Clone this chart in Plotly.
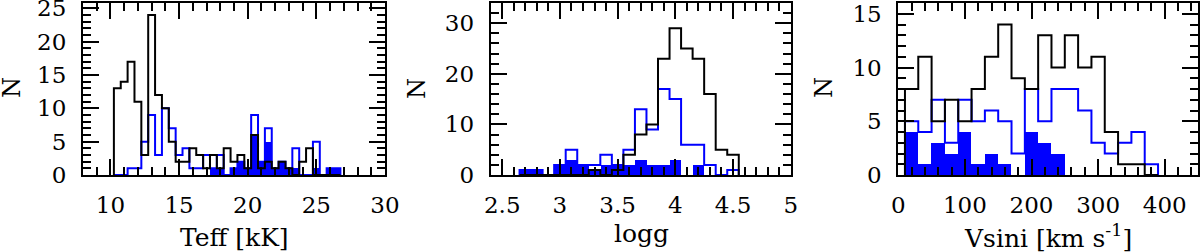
import plotly.graph_objects as go

# ---------------- data ----------------
# Panel 1: Teff histogram, bin width 0.5 kK (bin centres)
teff_centers = [10.5, 11.0, 11.5, 12.0, 12.5, 13.0, 13.5, 14.0, 14.5, 15.0, 15.5,
                16.0, 16.5, 17.0, 17.5, 18.0, 18.5, 19.0, 19.5, 20.0, 20.5, 21.0,
                21.5, 22.0, 22.5, 23.0, 23.5, 24.0, 24.5, 25.0, 25.5, 26.0, 26.5]
teff_black = [13, 14, 17, 11, 3, 24, 12, 10, 5, 2, 2, 4, 3, 1, 3, 1, 4, 2, 3, 1, 6,
              1, 2, 1, 2, 1, 0, 2, 4, 0, 0, 0, 0]
teff_blue = [0, 0, 1, 1, 5, 9, 3, 10, 7, 3, 4, 1, 1, 3, 1, 3, 0, 1, 2, 1, 9,
             2, 7, 1, 2, 1, 4, 0, 0, 5, 0, 1, 1]
teff_fill = [0, 0, 0, 0, 0, 0, 0, 0, 0, 0, 0, 0, 0, 0, 1, 1, 0, 1, 2, 1, 6,
             2, 5, 1, 2, 1, 1, 0, 0, 1, 0, 1, 1]
teff_width = 0.5

# Panel 2: logg histogram, bin width 0.1
logg_centers = [2.7, 2.8, 2.9, 3.0, 3.1, 3.2, 3.3, 3.4, 3.5, 3.6, 3.7, 3.8, 3.9,
                4.0, 4.1, 4.2, 4.3, 4.4, 4.5]
logg_black = [0, 0, 0, 0, 0, 0, 1, 0, 1, 4, 8, 10, 23, 29, 25, 23, 16, 5, 4]
logg_blue = [1, 1, 0, 2, 5, 2, 2, 4, 2, 5, 13, 9, 17, 15, 6, 6, 2, 0, 1]
logg_fill = [1, 1, 0, 2, 3, 2, 1, 2, 2, 2, 3, 2, 2, 3, 0, 2, 0, 0, 0]
logg_width = 0.1

# Panel 3: Vsini histogram, bin width 20 km/s
vs_centers = [20, 40, 60, 80, 100, 120, 140, 160, 180, 200, 220, 240, 260, 280,
              300, 320, 340, 360, 380]
vs_black = [8, 11, 5, 7, 5, 8, 11, 14, 9, 8, 13, 10, 13, 10, 11, 4, 1, 1, 0]
vs_blue = [5, 4, 7, 3, 7, 5, 6, 5, 2, 8, 5, 8, 8, 6, 3, 2, 3, 4, 1]
vs_fill = [4, 1, 3, 2, 4, 1, 2, 1, 0, 4, 3, 2, 0, 0, 0, 0, 0, 0, 0]
vs_width = 20

x_titles = ["Teff [kK]", "logg", "Vsini [km s<sup>-1</sup>]"]
y_title = "N"

BLUE = "#0000ff"
FONT = "DejaVu Serif"
W, H = 1200, 252


def step(centers, counts, width):
    xs = [centers[0] - width / 2]
    ys = [0]
    for c, n in zip(centers, counts):
        xs.append(c - width / 2)
        ys.append(n)
    xs.append(centers[-1] + width / 2)
    ys.append(counts[-1])
    xs.append(centers[-1] + width / 2)
    ys.append(0)
    return xs, ys


fig = go.Figure()

panels = [
    (teff_centers, teff_black, teff_blue, teff_fill, teff_width),
    (logg_centers, logg_black, logg_blue, logg_fill, logg_width),
    (vs_centers, vs_black, vs_blue, vs_fill, vs_width),
]

for i, (cen, blk, blu, fil, w) in enumerate(panels):
    xa = "x" if i == 0 else f"x{i+1}"
    ya = "y" if i == 0 else f"y{i+1}"
    fig.add_trace(go.Bar(x=cen, y=fil, width=w, marker=dict(color=BLUE, line=dict(width=0)),
                         xaxis=xa, yaxis=ya, showlegend=False))
    bx, by = step(cen, blu, w)
    fig.add_trace(go.Scatter(x=bx, y=by, mode="lines", line=dict(color=BLUE, width=2, shape="hv"),
                             xaxis=xa, yaxis=ya, showlegend=False))
    kx, ky = step(cen, blk, w)
    fig.add_trace(go.Scatter(x=kx, y=ky, mode="lines", line=dict(color="black", width=2, shape="hv"),
                             xaxis=xa, yaxis=ya, showlegend=False))

# geometry (pixels)
x_dom_px = [(83, 385), (490.7, 790.7), (898.3, 1198)]
y_top_px, y_bot_px = 3, 175
y_dom = [1 - y_bot_px / H, 1 - y_top_px / H]

x_specs = [
    dict(range=[8, 30], tick0=0, dtick=5, minor_dtick=1),
    dict(range=[2.4, 5.0], tick0=0, dtick=0.5, minor_dtick=0.1),
    dict(range=[0, 450], tick0=0, dtick=100, minor_dtick=20),
]
y_specs = [
    dict(range=[0, 25.8], dtick=5, minor_dtick=1),
    dict(range=[0, 34], dtick=10, minor_dtick=2),
    dict(range=[0, 16], dtick=5, minor_dtick=1),
]

tick_common = dict(
    ticks="inside", ticklen=16, tickwidth=2, tickcolor="black",
    showgrid=False, zeroline=False, automargin=False,
    ticklabeloverflow="allow",
    tickfont=dict(family=FONT, size=23, color="black"),
)

layout_axes = {}
for i in range(3):
    xs = x_specs[i]
    ys = y_specs[i]
    n = i + 1
    xk = "xaxis" if i == 0 else f"xaxis{n}"
    yk = "yaxis" if i == 0 else f"yaxis{n}"
    yref = "y" if i == 0 else f"y{n}"
    xref = "x" if i == 0 else f"x{n}"
    xdom = [x_dom_px[i][0] / W, x_dom_px[i][1] / W]
    xminor = dict(dtick=xs["minor_dtick"], ticks="inside", ticklen=8, tickwidth=2, tickcolor="black")
    yminor = dict(dtick=ys["minor_dtick"], ticks="inside", ticklen=8, tickwidth=2, tickcolor="black")
    layout_axes[xk] = dict(
        tick_common, domain=xdom, anchor=yref,
        showline=True, linewidth=2, linecolor="black", mirror=True,
        range=xs["range"], tick0=xs["tick0"], dtick=xs["dtick"],
        minor=xminor, ticklabelstandoff=8,
    )
    layout_axes[yk] = dict(
        tick_common, domain=y_dom, anchor=xref,
        showline=True, linewidth=2, linecolor="black", mirror=True,
        range=ys["range"], tick0=0, dtick=ys["dtick"],
        minor=yminor, ticklabelstandoff=10,
    )
    # mirrored axes (top / right) carrying ticks without labels
    layout_axes[f"xaxis{n + 3}"] = dict(
        tick_common, domain=xdom, anchor=yref, overlaying=xref, side="top",
        showline=False, showticklabels=False,
        range=xs["range"], tick0=xs["tick0"], dtick=xs["dtick"], minor=xminor,
    )
    layout_axes[f"yaxis{n + 3}"] = dict(
        tick_common, domain=y_dom, anchor=xref, overlaying=yref, side="right",
        showline=False, showticklabels=False,
        range=ys["range"], tick0=0, dtick=ys["dtick"], minor=yminor,
    )

# invisible traces so the mirrored axes are drawn
for i in range(3):
    n = i + 1
    fig.add_trace(go.Scatter(x=[x_specs[i]["range"][0]], y=[y_specs[i]["range"][0]],
                             mode="markers", marker=dict(opacity=0), hoverinfo="skip",
                             xaxis=f"x{n + 3}", yaxis=f"y{n + 3}", showlegend=False))

annotations = []
x_title_pos = [(234, 237), (641, 233), (1048, 236)]
n_pos = [(12, 88), (417, 88), (824, 88)]
for i in range(3):
    annotations.append(dict(
        text=x_titles[i], xref="paper", yref="paper",
        x=x_title_pos[i][0] / W, y=1 - x_title_pos[i][1] / H,
        xanchor="center", yanchor="middle", showarrow=False,
        font=dict(family=FONT, size=25, color="black")))
    annotations.append(dict(
        text=y_title, xref="paper", yref="paper",
        x=n_pos[i][0] / W, y=1 - n_pos[i][1] / H,
        xanchor="center", yanchor="middle", showarrow=False, textangle=-90,
        font=dict(family=FONT, size=24, color="black")))

fig.update_layout(
    width=W, height=H,
    margin=dict(l=0, r=0, t=0, b=0),
    paper_bgcolor="white", plot_bgcolor="white",
    barmode="overlay", bargap=0,
    annotations=annotations,
    **layout_axes,
)

fig.write_html("out.html", config={"displayModeBar": False},
               post_script="document.body.style.margin='0';document.body.style.overflow='hidden';")
